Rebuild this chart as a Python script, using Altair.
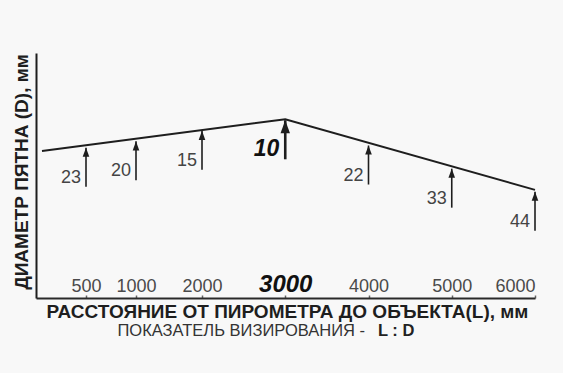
import altair as alt
import pandas as pd

# ---- data ----
distances = [500, 1000, 2000, 3000, 4000, 5000, 6000]      # L, mm
spot_diameters = [23, 20, 15, 10, 22, 33, 44]              # D, mm
focus_distance = 3000
envelope_distance = [60, 3000, 6000]                       # spot envelope line, L
envelope_diameter = [24.6, 9.5, 43.1]                      # spot envelope line, D

x_title = "РАССТОЯНИЕ ОТ ПИРОМЕТРА ДО ОБЪЕКТА(L), мм"
y_title = "ДИАМЕТР ПЯТНА (D), мм"
ratio_text = "ПОКАЗАТЕЛЬ ВИЗИРОВАНИЯ -"
ratio_symbol = "L : D"

FONT = "Liberation Sans"
DARK = "#1e1e1e"
GREY = "#444444"
BG = "#f8f8f8"

arrows = pd.DataFrame({"L": distances, "D": spot_diameters})
arrows["focus"] = arrows["L"] == focus_distance
envelope = pd.DataFrame({"L": envelope_distance, "D": envelope_diameter})

PLOT_H = 298

# schematic (broken) distance scale and diameter scale
x_scale = alt.Scale(domain=[0, 1000, 2000, 6000], range=[36, 136, 202, 535], nice=False, zero=False)
y_scale = alt.Scale(domain=[-22, 94.5], range=[53, PLOT_H], nice=False, zero=False)

focus_test = f"datum.value == {focus_distance}"
x_axis = alt.Axis(
    orient="top", offset=-PLOT_H, values=distances, format="d",
    domainColor="#2a2a2a", domainWidth=2,
    ticks=True, tickSize=3, tickWidth=1.5, tickColor="#666666",
    labelFont=FONT, labelPadding=4, labelBaseline="alphabetic", labelOverlap=False, labelBound=False,
    labelFontSize={"condition": {"test": focus_test, "value": 24}, "value": 18},
    labelFontWeight={"condition": {"test": focus_test, "value": "bold"}, "value": "normal"},
    labelFontStyle={"condition": {"test": focus_test, "value": "italic"}, "value": "normal"},
    labelColor={"condition": {"test": focus_test, "value": "#111111"}, "value": "#4a4a4a"},
    grid=False,
    title=x_title, titleFont=FONT, titleFontSize=19, titleFontWeight="bold", titleColor=DARK,
    titleX=287, titleY=13, titleAlign="center", titleBaseline="middle", titleAngle=0,
)
y_axis = alt.Axis(
    orient="left", offset=-36, domain=True, domainColor=DARK, domainWidth=2,
    ticks=False, labels=False, grid=False,
    title=y_title, titleFont=FONT, titleFontSize=19, titleFontWeight="bold", titleColor=DARK,
    titleAngle=270, titleX=-15, titleY=171.5, titleAlign="center", titleBaseline="middle",
)

x_enc = alt.X("L:Q", scale=x_scale, axis=x_axis)
y_enc = alt.Y("D:Q", scale=y_scale, axis=y_axis)

base = alt.Chart(arrows)

line = alt.Chart(envelope).mark_line(color=DARK, strokeWidth=2).encode(x=x_enc, y=y_enc)

shafts = base.mark_rule(color=DARK, y2Offset=39).encode(
    x=x_enc, y=y_enc, y2="D:Q",
    strokeWidth=alt.condition("datum.focus", alt.value(2.6), alt.value(1.6)),
)

heads = base.mark_point(
    shape="M0,0L-0.8,2.2L0.8,2.2Z", filled=True, color=DARK, opacity=1
).encode(
    x=x_enc, y=y_enc,
    size=alt.condition("datum.focus", alt.value(140), alt.value(68)),
)

labels = base.transform_filter("!datum.focus").mark_text(
    align="right", baseline="middle", dx=-5, dy=30, font=FONT, fontSize=18, color=GREY
).encode(x=x_enc, y=y_enc, text="D:Q")

focus_label = base.transform_filter("datum.focus").mark_text(
    align="right", baseline="middle", dx=-6, dy=29, font=FONT, fontSize=23,
    fontWeight="bold", fontStyle="italic", color="#111111"
).encode(x=x_enc, y=y_enc, text="D:Q")

ratio = alt.Chart(pd.DataFrame({"t": [ratio_text]})).mark_text(
    align="right", baseline="middle", font=FONT, fontSize=16.5, color="#333333"
).encode(x=alt.value(365), y=alt.value(331), text="t:N")

ratio_sym = alt.Chart(pd.DataFrame({"t": [ratio_symbol]})).mark_text(
    align="left", baseline="middle", font=FONT, fontSize=16.5, fontWeight="bold", color="#222222"
).encode(x=alt.value(378), y=alt.value(331), text="t:N")

chart = alt.layer(line, shafts, heads, labels, focus_label, ratio, ratio_sym).properties(
    width=563, height=PLOT_H,
    padding={"left": 0, "top": 0, "right": 0, "bottom": 373 - PLOT_H},
    autosize="none",
    background=BG,
).configure_view(stroke=None)

chart.save("out.html", embed_options={"renderer": "svg", "actions": False})
